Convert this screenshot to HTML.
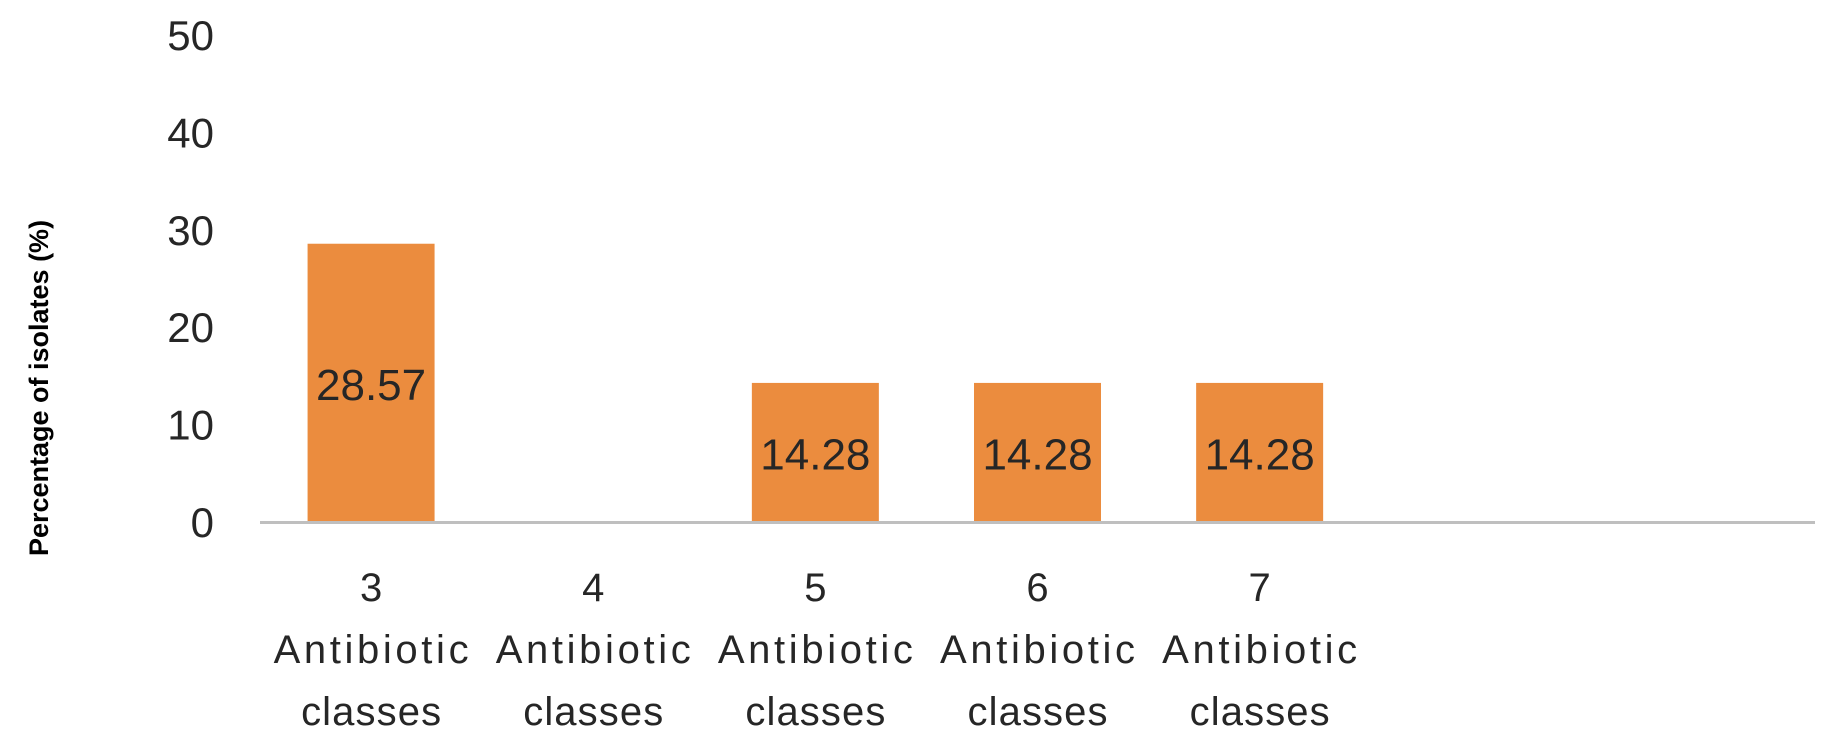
<!DOCTYPE html>
<html><head><meta charset="utf-8"><style>
body{margin:0;background:#fff;}
svg text{font-family:"Liberation Sans",sans-serif;fill:#262626;}
</style></head><body>
<svg width="1848" height="748" viewBox="0 0 1848 748">
<g id="yticks"></g>
<g id="bars"></g>
<g id="xlabels"></g>
<line x1="260" y1="522.5" x2="1815" y2="522.5" stroke="#BFBFBF" stroke-width="3"/>
<text x="39" y="388" transform="rotate(-90 39 388)" text-anchor="middle" dominant-baseline="central" font-size="27" font-weight="bold" style="fill:#000">Percentage of isolates (%)</text>
</svg>
<script>
const categories=["3","4","5","6","7","",""];
const values=[28.57,null,14.28,14.28,14.28,null,null];
const valueLabels=["28.57","","14.28","14.28","14.28","",""];
const yTicks=[0,10,20,30,40,50];
const NS="http://www.w3.org/2000/svg";
const plotL=260,plotR=1815,y0=522,yTop=35,yMax=50;
const bandW=(plotR-plotL)/categories.length, barW=127;
function y(v){return y0-(v/yMax)*(y0-yTop);}
function xc(i){return plotL+bandW*(i+0.5);}
const gY=document.getElementById('yticks');
yTicks.forEach(t=>{
 const e=document.createElementNS(NS,'text');
 
 
 e.setAttribute('x',214);e.setAttribute('y',y(t)+15);
 e.setAttribute('text-anchor','end');e.setAttribute('font-size','42');
 e.textContent=t;gY.appendChild(e);
});
const gB=document.getElementById('bars'),gX=document.getElementById('xlabels');
categories.forEach((c,i)=>{
 const v=values[i];
 if(v!=null){
  const r=document.createElementNS(NS,'rect');
  
  
  r.setAttribute('x',xc(i)-barW/2);r.setAttribute('width',barW);
  r.setAttribute('y',y(v));r.setAttribute('height',y0-y(v));
  r.setAttribute('fill','#EB8C3E');gB.appendChild(r);
  const t=document.createElementNS(NS,'text');
  
  
  t.setAttribute('x',xc(i));t.setAttribute('y',(y(v)+y0)/2+17);
  t.setAttribute('text-anchor','middle');t.setAttribute('font-size','44');
  t.textContent=valueLabels[i];gB.appendChild(t);
 }
 if(c){
  [c,"Antibiotic","classes"].forEach((s,k)=>{
   const t=document.createElementNS(NS,'text');
   
   
   t.setAttribute('x',xc(i));t.setAttribute('y',601+k*62);
   t.setAttribute('text-anchor','middle');t.setAttribute('font-size','40');
   t.setAttribute('textLength', k==1?195:(k==2?140:0));
   if(k==0)t.removeAttribute('textLength');
   t.textContent=s;gX.appendChild(t);
  });
 }
});
</script>
</body></html>
